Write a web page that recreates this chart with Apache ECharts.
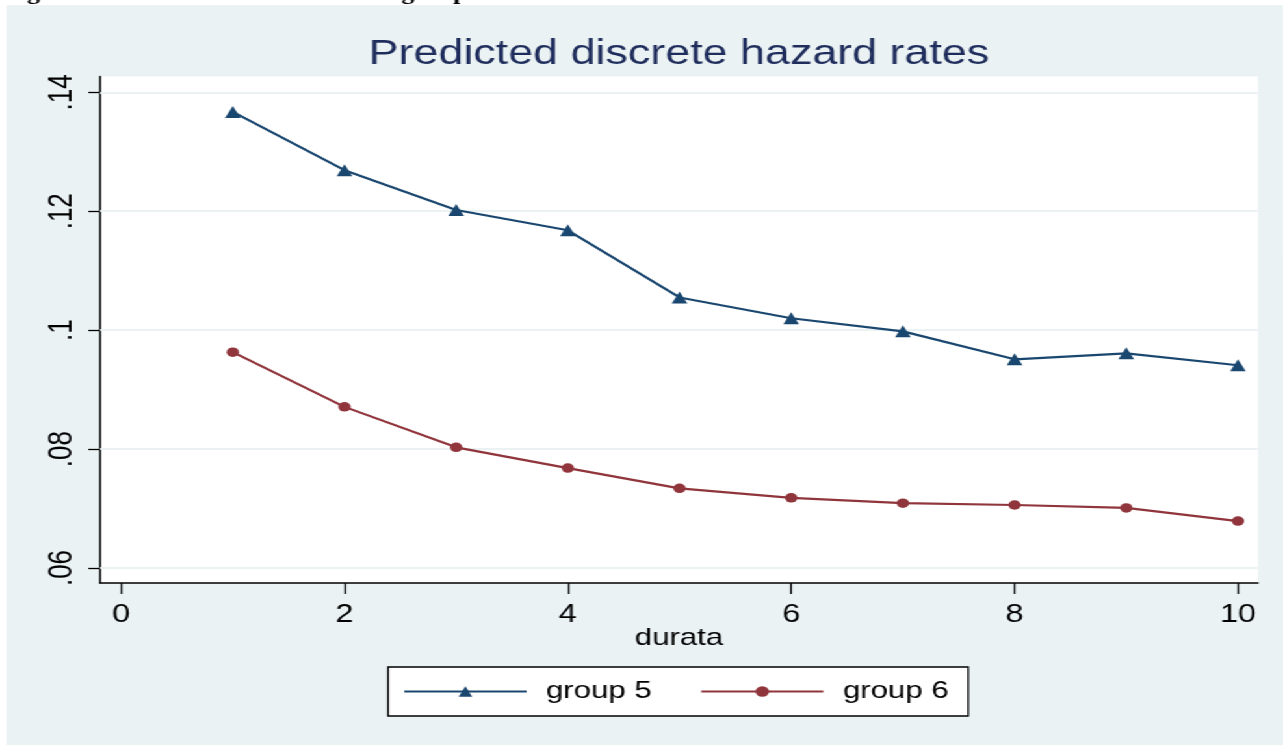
<!DOCTYPE html>
<html><head><meta charset="utf-8">
<script src="https://cdn.jsdelivr.net/npm/echarts@6/dist/echarts.min.js"></script>
<style>
html,body{margin:0;padding:0;background:#fff;overflow:hidden;width:1283px;height:745px;}
#wrap{position:absolute;left:0;top:0;width:987px;height:745px;transform:scaleX(1.3);transform-origin:0 0;}
#bg{position:absolute;left:4.6px;top:5px;right:0;bottom:0;background:#EAF2F3;}
#chart{position:absolute;left:0;top:0;width:987px;height:745px;}
</style></head><body>
<div id="wrap"><div id="bg"></div><div id="chart"></div></div>
<script>
const X_VALUES = [1, 2, 3, 4, 5, 6, 7, 8, 9, 10];
const GROUP5 = [0.1367, 0.1269, 0.1202, 0.1168, 0.1055, 0.1020, 0.0998, 0.0951, 0.0961, 0.0941];
const GROUP6 = [0.0963, 0.0871, 0.0803, 0.0768, 0.0734, 0.0718, 0.0709, 0.0706, 0.0701, 0.0679];
const X_TICKS = [0, 2, 4, 6, 8, 10];
const Y_TICKS = [0.06, 0.08, 0.10, 0.12, 0.14];
const Y_TICK_LABELS = ['.06', '.08', '.1', '.12', '.14'];
const SERIES_NAMES = ['group 5', 'group 6'];
const TITLE = 'Predicted discrete hazard rates';
const X_NAME = 'durata';
const CAPTION = 'Figure 4 Predicted hazard rates for group 5 and 6';

const C5 = '#1a476f', C6 = '#90353b', GRIDC = '#EAF2F3';
const FONT = '"Liberation Sans", Arial, sans-serif';

function yLabel(v) {
  let best = 0, bd = Infinity;
  Y_TICKS.forEach((t, i) => { const d = Math.abs(t - v); if (d < bd) { bd = d; best = i; } });
  return Y_TICK_LABELS[best];
}

const chart = echarts.init(document.getElementById('chart'), null, {renderer: 'canvas'});
chart.setOption({
  animation: false,
  backgroundColor: 'transparent',
  textStyle: {fontFamily: FONT},
  graphic: [{
    type: 'text', x: 3, y: 4, silent: true,
    style: {text: CAPTION, font: 'bold 20px "Liberation Serif", serif', fill: '#000', verticalAlign: 'bottom'}
  }],
  title: {
    text: TITLE, left: 522.3, top: 36.5, padding: 0, textAlign: 'center',
    textStyle: {fontFamily: FONT, fontSize: 34.5, fontWeight: 'normal', color: '#1f2d5c'}
  },
  grid: {
    left: 77, right: 19.3, top: 76.5, bottom: 162,
    show: true, backgroundColor: '#ffffff', borderWidth: 0, containLabel: false
  },
  legend: {
    data: SERIES_NAMES,
    left: 298.5, top: 667,
    orient: 'horizontal',
    backgroundColor: '#ffffff', borderColor: '#000', borderWidth: 1.3,
    padding: [11, 15, 11, 11.5],
    itemWidth: 94, itemHeight: 13, itemGap: 37,
    textStyle: {fontFamily: FONT, fontSize: 24, color: '#000', lineHeight: 27, padding: [0, 0, 0, 10]}
  },
  xAxis: {
    type: 'value', min: -0.188, max: 10.179,
    name: X_NAME, nameLocation: 'middle', nameGap: 43, nameMoveOverlap: false,
    nameTextStyle: {fontFamily: FONT, fontSize: 24, color: '#000', verticalAlign: 'top'},
    axisLine: {show: true, onZero: false, lineStyle: {color: '#000', width: 1.5}},
    axisTick: {show: true, customValues: X_TICKS, length: 11, lineStyle: {color: '#000', width: 1.3}},
    axisLabel: {show: true, customValues: X_TICKS, margin: 20, fontFamily: FONT, fontSize: 25, color: '#000'},
    splitLine: {show: false}
  },
  yAxis: {
    type: 'value', min: 0.05748, max: 0.14266,
    axisLine: {show: true, onZero: false, lineStyle: {color: '#000', width: 1.5}},
    axisTick: {show: true, customValues: Y_TICKS, length: 9, lineStyle: {color: '#000', width: 1.3}},
    axisLabel: {show: true, customValues: Y_TICKS, rotate: 90, margin: 16, fontFamily: FONT, fontSize: 26, color: '#000', formatter: yLabel},
    splitLine: {show: false}
  },
  series: [
    {
      name: SERIES_NAMES[0], type: 'line',
      data: X_VALUES.map((x, i) => [x, GROUP5[i]]),
      symbol: 'triangle', symbolSize: [12, 12],
      lineStyle: {color: C5, width: 2.2}, itemStyle: {color: C5},
      z: 3,
      markLine: {
        silent: true, z: 1, symbol: ['none', 'none'], label: {show: false},
        lineStyle: {color: GRIDC, width: 2, type: 'solid'},
        emphasis: {disabled: true},
        data: Y_TICKS.map(v => ({yAxis: v}))
      }
    },
    {
      name: SERIES_NAMES[1], type: 'line',
      data: X_VALUES.map((x, i) => [x, GROUP6[i]]),
      symbol: 'circle', symbolSize: 9.5,
      lineStyle: {color: C6, width: 2.2}, itemStyle: {color: C6},
      z: 3
    }
  ]
});
</script>
</body></html>
